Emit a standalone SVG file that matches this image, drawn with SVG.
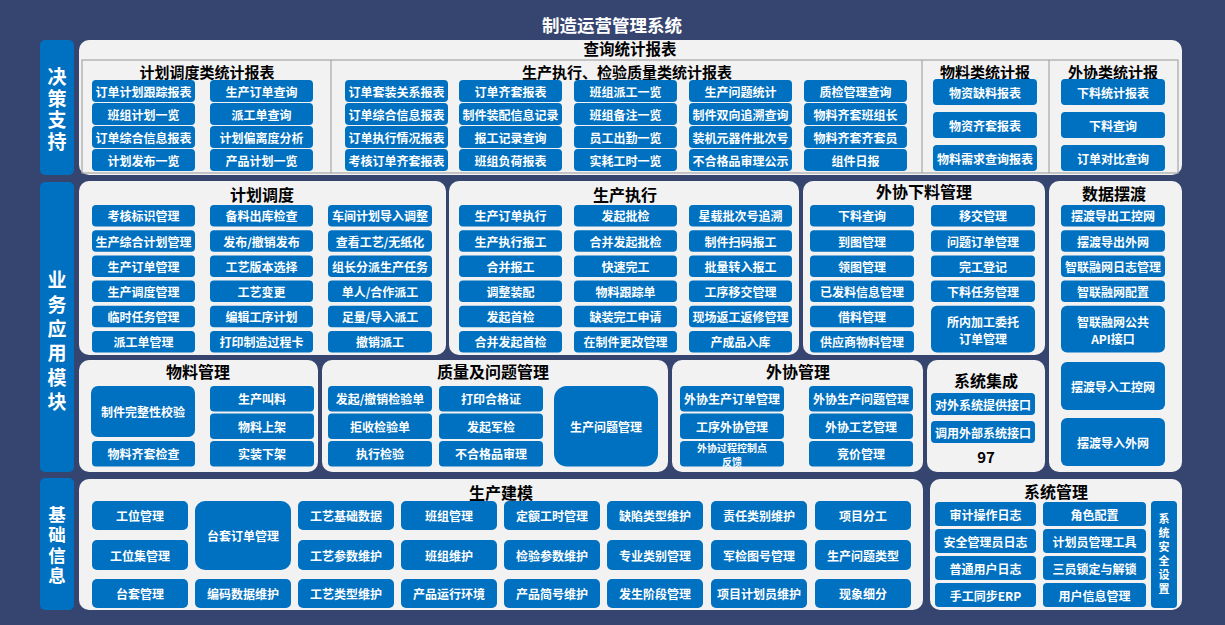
<svg xmlns="http://www.w3.org/2000/svg" width="1225" height="625" viewBox="0 0 1225 625">
<style>
text{font-family:"Noto Sans CJK SC","Noto Sans",sans-serif;font-weight:bold}
.bg{fill:#36456F}
.side{fill:#0070C0}
.vt{fill:#fff;writing-mode:vertical-rl;text-anchor:start}
.panel{fill:#F2F2F2}
.pt{fill:#000;font-size:16px;text-anchor:middle}
.sh{fill:#000;font-size:15px;text-anchor:middle}
.btn{fill:#0070C0}
.bt{fill:#fff;font-size:12px;text-anchor:middle;dominant-baseline:central}
.bs{fill:#fff;font-size:10px;text-anchor:middle;dominant-baseline:central}
.ln{stroke:#A6A6A6;stroke-width:1.2;fill:none}
</style>
<rect class="bg" x="0" y="0" width="1225" height="625"/>
<text x="612" y="32" fill="#fff" font-size="17.5" text-anchor="middle">制造运营管理系统</text>

<g id="side-decision"><rect class="side" x="40" y="40" width="34" height="135" rx="5"/>
<text class="vt" x="57" y="67.5" font-size="19" letter-spacing="2.5">决策支持</text></g>
<g id="side-business"><rect class="side" x="40" y="182" width="34" height="290" rx="5"/>
<text class="vt" x="57" y="270.5" font-size="19" letter-spacing="5.4">业务应用模块</text></g>
<g id="side-basic"><rect class="side" x="40" y="478" width="34" height="132" rx="5"/>
<text class="vt" x="57" y="505.2" font-size="17.5" letter-spacing="3">基础信息</text></g>

<g id="panel-query">
<rect class="panel" x="79" y="40" width="1103" height="135" rx="10"/>
<text x="630" y="55" fill="#000" font-size="15.5" text-anchor="middle">查询统计报表</text>
<rect class="ln" x="82" y="60" width="1096" height="113"/>
<line class="ln" x1="331" y1="60" x2="331" y2="173"/>
<line class="ln" x1="922" y1="60" x2="922" y2="173"/>
<line class="ln" x1="1049" y1="60" x2="1049" y2="173"/>
<text class="sh" x="207" y="77.5">计划调度类统计报表</text>
<text class="sh" x="627" y="77.5">生产执行、检验质量类统计报表</text>
<text class="sh" x="985" y="77.5">物料类统计报</text>
<text class="sh" x="1113" y="77.5">外协类统计报</text>
</g>

<g id="q-plan">
<g id="q1"><rect class="btn" x="92" y="80" width="103" height="22" rx="4"/><text class="bt" x="143.5" y="91">订单计划跟踪报表</text></g>
<g id="q2"><rect class="btn" x="92" y="103" width="103" height="22" rx="4"/><text class="bt" x="143.5" y="114">班组计划一览</text></g>
<g id="q3"><rect class="btn" x="92" y="126" width="103" height="22" rx="4"/><text class="bt" x="143.5" y="137">订单综合信息报表</text></g>
<g id="q4"><rect class="btn" x="92" y="149" width="103" height="22" rx="4"/><text class="bt" x="143.5" y="160">计划发布一览</text></g>
<g id="q5"><rect class="btn" x="210" y="80" width="103" height="22" rx="4"/><text class="bt" x="261.5" y="91">生产订单查询</text></g>
<g id="q6"><rect class="btn" x="210" y="103" width="103" height="22" rx="4"/><text class="bt" x="261.5" y="114">派工单查询</text></g>
<g id="q7"><rect class="btn" x="210" y="126" width="103" height="22" rx="4"/><text class="bt" x="261.5" y="137">计划偏离度分析</text></g>
<g id="q8"><rect class="btn" x="210" y="149" width="103" height="22" rx="4"/><text class="bt" x="261.5" y="160">产品计划一览</text></g>
</g>
<g id="q-exec">
<g id="q9"><rect class="btn" x="345" y="80" width="103" height="22" rx="4"/><text class="bt" x="396.5" y="91">订单套装关系报表</text></g>
<g id="q10"><rect class="btn" x="345" y="103" width="103" height="22" rx="4"/><text class="bt" x="396.5" y="114">订单综合信息报表</text></g>
<g id="q11"><rect class="btn" x="345" y="126" width="103" height="22" rx="4"/><text class="bt" x="396.5" y="137">订单执行情况报表</text></g>
<g id="q12"><rect class="btn" x="345" y="149" width="103" height="22" rx="4"/><text class="bt" x="396.5" y="160">考核订单齐套报表</text></g>
<g id="q13"><rect class="btn" x="459" y="80" width="103" height="22" rx="4"/><text class="bt" x="510.5" y="91">订单齐套报表</text></g>
<g id="q14"><rect class="btn" x="459" y="103" width="103" height="22" rx="4"/><text class="bt" x="510.5" y="114">制件装配信息记录</text></g>
<g id="q15"><rect class="btn" x="459" y="126" width="103" height="22" rx="4"/><text class="bt" x="510.5" y="137">报工记录查询</text></g>
<g id="q16"><rect class="btn" x="459" y="149" width="103" height="22" rx="4"/><text class="bt" x="510.5" y="160">班组负荷报表</text></g>
<g id="q17"><rect class="btn" x="574" y="80" width="103" height="22" rx="4"/><text class="bt" x="625.5" y="91">班组派工一览</text></g>
<g id="q18"><rect class="btn" x="574" y="103" width="103" height="22" rx="4"/><text class="bt" x="625.5" y="114">班组备注一览</text></g>
<g id="q19"><rect class="btn" x="574" y="126" width="103" height="22" rx="4"/><text class="bt" x="625.5" y="137">员工出勤一览</text></g>
<g id="q20"><rect class="btn" x="574" y="149" width="103" height="22" rx="4"/><text class="bt" x="625.5" y="160">实耗工时一览</text></g>
<g id="q21"><rect class="btn" x="689" y="80" width="103" height="22" rx="4"/><text class="bt" x="740.5" y="91">生产问题统计</text></g>
<g id="q22"><rect class="btn" x="689" y="103" width="103" height="22" rx="4"/><text class="bt" x="740.5" y="114">制件双向追溯查询</text></g>
<g id="q23"><rect class="btn" x="689" y="126" width="103" height="22" rx="4"/><text class="bt" x="740.5" y="137">装机元器件批次号</text></g>
<g id="q24"><rect class="btn" x="689" y="149" width="103" height="22" rx="4"/><text class="bt" x="740.5" y="160">不合格品审理公示</text></g>
<g id="q25"><rect class="btn" x="804" y="80" width="103" height="22" rx="4"/><text class="bt" x="855.5" y="91">质检管理查询</text></g>
<g id="q26"><rect class="btn" x="804" y="103" width="103" height="22" rx="4"/><text class="bt" x="855.5" y="114">物料齐套班组长</text></g>
<g id="q27"><rect class="btn" x="804" y="126" width="103" height="22" rx="4"/><text class="bt" x="855.5" y="137">物料齐套齐套员</text></g>
<g id="q28"><rect class="btn" x="804" y="149" width="103" height="22" rx="4"/><text class="bt" x="855.5" y="160">组件日报</text></g>
</g>
<g id="q-mat">
<g id="q29"><rect class="btn" x="933" y="79" width="104" height="26" rx="4"/><text class="bt" x="985" y="92">物资缺料报表</text></g>
<g id="q30"><rect class="btn" x="933" y="112" width="104" height="26" rx="4"/><text class="bt" x="985" y="125">物资齐套报表</text></g>
<g id="q31"><rect class="btn" x="933" y="145" width="104" height="26" rx="4"/><text class="bt" x="985" y="158">物料需求查询报表</text></g>
<g id="q32"><rect class="btn" x="1061" y="79" width="104" height="26" rx="4"/><text class="bt" x="1113" y="92">下料统计报表</text></g>
<g id="q33"><rect class="btn" x="1061" y="112" width="104" height="26" rx="4"/><text class="bt" x="1113" y="125">下料查询</text></g>
<g id="q34"><rect class="btn" x="1061" y="145" width="104" height="26" rx="4"/><text class="bt" x="1113" y="158">订单对比查询</text></g>
</g>

<g id="panel-plan">
<rect class="panel" x="79" y="181" width="367" height="174" rx="10"/>
<text class="pt" x="262" y="201">计划调度</text>
<g id="p1"><rect class="btn" x="92" y="205" width="103" height="21.5" rx="4"/><text class="bt" x="143.5" y="215.8">考核标识管理</text></g>
<g id="p2"><rect class="btn" x="92" y="230.2" width="103" height="21.5" rx="4"/><text class="bt" x="143.5" y="241">生产综合计划管理</text></g>
<g id="p3"><rect class="btn" x="92" y="255.4" width="103" height="21.5" rx="4"/><text class="bt" x="143.5" y="266.2">生产订单管理</text></g>
<g id="p4"><rect class="btn" x="92" y="280.6" width="103" height="21.5" rx="4"/><text class="bt" x="143.5" y="291.4">生产调度管理</text></g>
<g id="p5"><rect class="btn" x="92" y="305.8" width="103" height="21.5" rx="4"/><text class="bt" x="143.5" y="316.6">临时任务管理</text></g>
<g id="p6"><rect class="btn" x="92" y="331" width="103" height="21.5" rx="4"/><text class="bt" x="143.5" y="341.8">派工单管理</text></g>
<g id="p7"><rect class="btn" x="210" y="205" width="103" height="21.5" rx="4"/><text class="bt" x="261.5" y="215.8">备料出库检查</text></g>
<g id="p8"><rect class="btn" x="210" y="230.2" width="103" height="21.5" rx="4"/><text class="bt" x="261.5" y="241">发布/撤销发布</text></g>
<g id="p9"><rect class="btn" x="210" y="255.4" width="103" height="21.5" rx="4"/><text class="bt" x="261.5" y="266.2">工艺版本选择</text></g>
<g id="p10"><rect class="btn" x="210" y="280.6" width="103" height="21.5" rx="4"/><text class="bt" x="261.5" y="291.4">工艺变更</text></g>
<g id="p11"><rect class="btn" x="210" y="305.8" width="103" height="21.5" rx="4"/><text class="bt" x="261.5" y="316.6">编辑工序计划</text></g>
<g id="p12"><rect class="btn" x="210" y="331" width="103" height="21.5" rx="4"/><text class="bt" x="261.5" y="341.8">打印制造过程卡</text></g>
<g id="p13"><rect class="btn" x="328" y="205" width="104" height="21.5" rx="4"/><text class="bt" x="380" y="215.8">车间计划导入调整</text></g>
<g id="p14"><rect class="btn" x="328" y="230.2" width="104" height="21.5" rx="4"/><text class="bt" x="380" y="241">查看工艺/无纸化</text></g>
<g id="p15"><rect class="btn" x="328" y="255.4" width="104" height="21.5" rx="4"/><text class="bt" x="380" y="266.2">组长分派生产任务</text></g>
<g id="p16"><rect class="btn" x="328" y="280.6" width="104" height="21.5" rx="4"/><text class="bt" x="380" y="291.4">单人/合作派工</text></g>
<g id="p17"><rect class="btn" x="328" y="305.8" width="104" height="21.5" rx="4"/><text class="bt" x="380" y="316.6">足量/导入派工</text></g>
<g id="p18"><rect class="btn" x="328" y="331" width="104" height="21.5" rx="4"/><text class="bt" x="380" y="341.8">撤销派工</text></g>
</g>

<g id="panel-exec">
<rect class="panel" x="449" y="181" width="350" height="174" rx="10"/>
<text class="pt" x="625" y="201">生产执行</text>
<g id="e1"><rect class="btn" x="459" y="205" width="103" height="21.5" rx="4"/><text class="bt" x="510.5" y="215.8">生产订单执行</text></g>
<g id="e2"><rect class="btn" x="459" y="230.2" width="103" height="21.5" rx="4"/><text class="bt" x="510.5" y="241">生产执行报工</text></g>
<g id="e3"><rect class="btn" x="459" y="255.4" width="103" height="21.5" rx="4"/><text class="bt" x="510.5" y="266.2">合并报工</text></g>
<g id="e4"><rect class="btn" x="459" y="280.6" width="103" height="21.5" rx="4"/><text class="bt" x="510.5" y="291.4">调整装配</text></g>
<g id="e5"><rect class="btn" x="459" y="305.8" width="103" height="21.5" rx="4"/><text class="bt" x="510.5" y="316.6">发起首检</text></g>
<g id="e6"><rect class="btn" x="459" y="331" width="103" height="21.5" rx="4"/><text class="bt" x="510.5" y="341.8">合并发起首检</text></g>
<g id="e7"><rect class="btn" x="574" y="205" width="103" height="21.5" rx="4"/><text class="bt" x="625.5" y="215.8">发起批检</text></g>
<g id="e8"><rect class="btn" x="574" y="230.2" width="103" height="21.5" rx="4"/><text class="bt" x="625.5" y="241">合并发起批检</text></g>
<g id="e9"><rect class="btn" x="574" y="255.4" width="103" height="21.5" rx="4"/><text class="bt" x="625.5" y="266.2">快速完工</text></g>
<g id="e10"><rect class="btn" x="574" y="280.6" width="103" height="21.5" rx="4"/><text class="bt" x="625.5" y="291.4">物料跟踪单</text></g>
<g id="e11"><rect class="btn" x="574" y="305.8" width="103" height="21.5" rx="4"/><text class="bt" x="625.5" y="316.6">缺装完工申请</text></g>
<g id="e12"><rect class="btn" x="574" y="331" width="103" height="21.5" rx="4"/><text class="bt" x="625.5" y="341.8">在制件更改管理</text></g>
<g id="e13"><rect class="btn" x="689" y="205" width="103" height="21.5" rx="4"/><text class="bt" x="740.5" y="215.8">星载批次号追溯</text></g>
<g id="e14"><rect class="btn" x="689" y="230.2" width="103" height="21.5" rx="4"/><text class="bt" x="740.5" y="241">制件扫码报工</text></g>
<g id="e15"><rect class="btn" x="689" y="255.4" width="103" height="21.5" rx="4"/><text class="bt" x="740.5" y="266.2">批量转入报工</text></g>
<g id="e16"><rect class="btn" x="689" y="280.6" width="103" height="21.5" rx="4"/><text class="bt" x="740.5" y="291.4">工序移交管理</text></g>
<g id="e17"><rect class="btn" x="689" y="305.8" width="103" height="21.5" rx="4"/><text class="bt" x="740.5" y="316.6">现场返工返修管理</text></g>
<g id="e18"><rect class="btn" x="689" y="331" width="103" height="21.5" rx="4"/><text class="bt" x="740.5" y="341.8">产成品入库</text></g>
</g>

<g id="panel-cutting">
<rect class="panel" x="803" y="181" width="242" height="174" rx="10"/>
<text class="pt" x="924" y="198">外协下料管理</text>
<g id="c1"><rect class="btn" x="810" y="205" width="104" height="21.5" rx="4"/><text class="bt" x="862" y="215.8">下料查询</text></g>
<g id="c2"><rect class="btn" x="810" y="230.2" width="104" height="21.5" rx="4"/><text class="bt" x="862" y="241">到图管理</text></g>
<g id="c3"><rect class="btn" x="810" y="255.4" width="104" height="21.5" rx="4"/><text class="bt" x="862" y="266.2">领图管理</text></g>
<g id="c4"><rect class="btn" x="810" y="280.6" width="104" height="21.5" rx="4"/><text class="bt" x="862" y="291.4">已发料信息管理</text></g>
<g id="c5"><rect class="btn" x="810" y="305.8" width="104" height="21.5" rx="4"/><text class="bt" x="862" y="316.6">借料管理</text></g>
<g id="c6"><rect class="btn" x="810" y="331" width="104" height="21.5" rx="4"/><text class="bt" x="862" y="341.8">供应商物料管理</text></g>
<g id="c7"><rect class="btn" x="931" y="205" width="104" height="21.5" rx="4"/><text class="bt" x="983" y="215.8">移交管理</text></g>
<g id="c8"><rect class="btn" x="931" y="230.2" width="104" height="21.5" rx="4"/><text class="bt" x="983" y="241">问题订单管理</text></g>
<g id="c9"><rect class="btn" x="931" y="255.4" width="104" height="21.5" rx="4"/><text class="bt" x="983" y="266.2">完工登记</text></g>
<g id="c10"><rect class="btn" x="931" y="280.6" width="104" height="21.5" rx="4"/><text class="bt" x="983" y="291.4">下料任务管理</text></g>
<g id="c11"><rect class="btn" x="931" y="305.8" width="104" height="46.7" rx="6"/><text class="bt"><tspan x="983" y="321">所内加工委托</tspan><tspan x="983" y="338">订单管理</tspan></text></g>
</g>

<g id="panel-ferry">
<rect class="panel" x="1049" y="181" width="133" height="291" rx="10"/>
<text class="pt" x="1114" y="200">数据摆渡</text>
<g id="f1"><rect class="btn" x="1061" y="205" width="104" height="21.5" rx="4"/><text class="bt" x="1113" y="215.8">摆渡导出工控网</text></g>
<g id="f2"><rect class="btn" x="1061" y="230.2" width="104" height="21.5" rx="4"/><text class="bt" x="1113" y="241">摆渡导出外网</text></g>
<g id="f3"><rect class="btn" x="1061" y="255.4" width="104" height="21.5" rx="4"/><text class="bt" x="1113" y="266.2">智联融网日志管理</text></g>
<g id="f4"><rect class="btn" x="1061" y="280.6" width="104" height="21.5" rx="4"/><text class="bt" x="1113" y="291.4">智联融网配置</text></g>
<g id="f5"><rect class="btn" x="1061" y="305.8" width="104" height="46.7" rx="6"/><text class="bt"><tspan x="1113" y="321">智联融网公共</tspan><tspan x="1113" y="338">API接口</tspan></text></g>
<g id="f6"><rect class="btn" x="1061" y="362" width="104" height="48" rx="6"/><text class="bt" x="1113" y="386">摆渡导入工控网</text></g>
<g id="f7"><rect class="btn" x="1061" y="418" width="104" height="48" rx="6"/><text class="bt" x="1113" y="442">摆渡导入外网</text></g>
</g>

<g id="panel-material">
<rect class="panel" x="79" y="360" width="239" height="112" rx="10"/>
<text class="pt" x="198" y="378">物料管理</text>
<g id="m1"><rect class="btn" x="91" y="386" width="104" height="51" rx="7"/><text class="bt" x="143" y="411.5">制件完整性校验</text></g>
<g id="m2"><rect class="btn" x="92" y="441" width="103" height="25.5" rx="4"/><text class="bt" x="143.5" y="453.8">物料齐套检查</text></g>
<g id="m3"><rect class="btn" x="210" y="386" width="104" height="25.5" rx="4"/><text class="bt" x="262" y="398.8">生产叫料</text></g>
<g id="m4"><rect class="btn" x="210" y="413.5" width="104" height="25.5" rx="4"/><text class="bt" x="262" y="426.3">物料上架</text></g>
<g id="m5"><rect class="btn" x="210" y="441" width="104" height="25.5" rx="4"/><text class="bt" x="262" y="453.8">实装下架</text></g>
</g>

<g id="panel-quality">
<rect class="panel" x="322" y="360" width="346" height="112" rx="10"/>
<text class="pt" x="493" y="378">质量及问题管理</text>
<g id="k1"><rect class="btn" x="328" y="386" width="104" height="25.5" rx="4"/><text class="bt" x="380" y="398.8">发起/撤销检验单</text></g>
<g id="k2"><rect class="btn" x="328" y="413.5" width="104" height="25.5" rx="4"/><text class="bt" x="380" y="426.3">拒收检验单</text></g>
<g id="k3"><rect class="btn" x="328" y="441" width="104" height="25.5" rx="4"/><text class="bt" x="380" y="453.8">执行检验</text></g>
<g id="k4"><rect class="btn" x="439" y="386" width="104" height="25.5" rx="4"/><text class="bt" x="491" y="398.8">打印合格证</text></g>
<g id="k5"><rect class="btn" x="439" y="413.5" width="104" height="25.5" rx="4"/><text class="bt" x="491" y="426.3">发起军检</text></g>
<g id="k6"><rect class="btn" x="439" y="441" width="104" height="25.5" rx="4"/><text class="bt" x="491" y="453.8">不合格品审理</text></g>
<g id="k7"><rect class="btn" x="554" y="386" width="104" height="80.5" rx="13"/><text class="bt" x="606" y="426.3">生产问题管理</text></g>
</g>

<g id="panel-outsource">
<rect class="panel" x="672" y="360" width="251" height="112" rx="10"/>
<text class="pt" x="798" y="378">外协管理</text>
<g id="o1"><rect class="btn" x="680" y="386" width="104" height="25.5" rx="4"/><text class="bt" x="732" y="398.8">外协生产订单管理</text></g>
<g id="o2"><rect class="btn" x="680" y="413.5" width="104" height="25.5" rx="4"/><text class="bt" x="732" y="426.3">工序外协管理</text></g>
<g id="o3"><rect class="btn" x="680" y="441" width="104" height="25.5" rx="4"/><text class="bs"><tspan x="732" y="446.5">外协过程控制点</tspan><tspan x="732" y="461">反馈</tspan></text></g>
<g id="o4"><rect class="btn" x="809" y="386" width="104" height="25.5" rx="4"/><text class="bt" x="861" y="398.8">外协生产问题管理</text></g>
<g id="o5"><rect class="btn" x="809" y="413.5" width="104" height="25.5" rx="4"/><text class="bt" x="861" y="426.3">外协工艺管理</text></g>
<g id="o6"><rect class="btn" x="809" y="441" width="104" height="25.5" rx="4"/><text class="bt" x="861" y="453.8">竞价管理</text></g>
</g>

<g id="panel-integration">
<rect class="panel" x="927" y="360" width="118" height="112" rx="10"/>
<text class="pt" x="986" y="387">系统集成</text>
<g id="i1"><rect class="btn" x="931" y="393" width="104" height="22" rx="4"/><text class="bt" x="983" y="404">对外系统提供接口</text></g>
<g id="i2"><rect class="btn" x="931" y="421" width="104" height="22" rx="4"/><text class="bt" x="983" y="432">调用外部系统接口</text></g>
<text x="986" y="463" fill="#000" font-size="15" text-anchor="middle">97</text>
</g>

<g id="panel-modeling">
<rect class="panel" x="79" y="479" width="844" height="131" rx="10"/>
<text class="pt" x="501" y="499">生产建模</text>
<g id="b1"><rect class="btn" x="92" y="501" width="96" height="29" rx="5"/><text class="bt" x="140" y="515.5">工位管理</text></g>
<g id="b2"><rect class="btn" x="92" y="540" width="96" height="30" rx="5"/><text class="bt" x="140" y="555">工位集管理</text></g>
<g id="b3"><rect class="btn" x="92" y="579" width="96" height="29" rx="5"/><text class="bt" x="140" y="593.5">台套管理</text></g>
<g id="b4"><rect class="btn" x="195" y="501" width="96" height="69" rx="10"/><text class="bt" x="243" y="535.5">台套订单管理</text></g>
<g id="b5"><rect class="btn" x="195" y="579" width="96" height="29" rx="5"/><text class="bt" x="243" y="593.5">编码数据维护</text></g>
<g id="b6"><rect class="btn" x="298" y="501" width="96" height="29" rx="5"/><text class="bt" x="346" y="515.5">工艺基础数据</text></g>
<g id="b7"><rect class="btn" x="298" y="540" width="96" height="30" rx="5"/><text class="bt" x="346" y="555">工艺参数维护</text></g>
<g id="b8"><rect class="btn" x="298" y="579" width="96" height="29" rx="5"/><text class="bt" x="346" y="593.5">工艺类型维护</text></g>
<g id="b9"><rect class="btn" x="401" y="501" width="96" height="29" rx="5"/><text class="bt" x="449" y="515.5">班组管理</text></g>
<g id="b10"><rect class="btn" x="401" y="540" width="96" height="30" rx="5"/><text class="bt" x="449" y="555">班组维护</text></g>
<g id="b11"><rect class="btn" x="401" y="579" width="96" height="29" rx="5"/><text class="bt" x="449" y="593.5">产品运行环境</text></g>
<g id="b12"><rect class="btn" x="504" y="501" width="96" height="29" rx="5"/><text class="bt" x="552" y="515.5">定额工时管理</text></g>
<g id="b13"><rect class="btn" x="504" y="540" width="96" height="30" rx="5"/><text class="bt" x="552" y="555">检验参数维护</text></g>
<g id="b14"><rect class="btn" x="504" y="579" width="96" height="29" rx="5"/><text class="bt" x="552" y="593.5">产品简号维护</text></g>
<g id="b15"><rect class="btn" x="607" y="501" width="96" height="29" rx="5"/><text class="bt" x="655" y="515.5">缺陷类型维护</text></g>
<g id="b16"><rect class="btn" x="607" y="540" width="96" height="30" rx="5"/><text class="bt" x="655" y="555">专业类别管理</text></g>
<g id="b17"><rect class="btn" x="607" y="579" width="96" height="29" rx="5"/><text class="bt" x="655" y="593.5">发生阶段管理</text></g>
<g id="b18"><rect class="btn" x="711" y="501" width="96" height="29" rx="5"/><text class="bt" x="759" y="515.5">责任类别维护</text></g>
<g id="b19"><rect class="btn" x="711" y="540" width="96" height="30" rx="5"/><text class="bt" x="759" y="555">军检图号管理</text></g>
<g id="b20"><rect class="btn" x="711" y="579" width="96" height="29" rx="5"/><text class="bt" x="759" y="593.5">项目计划员维护</text></g>
<g id="b21"><rect class="btn" x="815" y="501" width="96" height="29" rx="5"/><text class="bt" x="863" y="515.5">项目分工</text></g>
<g id="b22"><rect class="btn" x="815" y="540" width="96" height="30" rx="5"/><text class="bt" x="863" y="555">生产问题类型</text></g>
<g id="b23"><rect class="btn" x="815" y="579" width="96" height="29" rx="5"/><text class="bt" x="863" y="593.5">现象细分</text></g>
</g>

<g id="panel-sysmgmt">
<rect class="panel" x="930" y="479" width="252" height="131" rx="10"/>
<text class="pt" x="1056" y="498">系统管理</text>
<g id="s1"><rect class="btn" x="935" y="502" width="101" height="24" rx="4"/><text class="bt" x="985.5" y="514">审计操作日志</text></g>
<g id="s2"><rect class="btn" x="935" y="529" width="101" height="24" rx="4"/><text class="bt" x="985.5" y="541">安全管理员日志</text></g>
<g id="s3"><rect class="btn" x="935" y="556" width="101" height="24" rx="4"/><text class="bt" x="985.5" y="568">普通用户日志</text></g>
<g id="s4"><rect class="btn" x="935" y="583" width="101" height="24" rx="4"/><text class="bt" x="985.5" y="595">手工同步ERP</text></g>
<g id="s5"><rect class="btn" x="1043" y="502" width="103" height="24" rx="4"/><text class="bt" x="1094.5" y="514">角色配置</text></g>
<g id="s6"><rect class="btn" x="1043" y="529" width="103" height="24" rx="4"/><text class="bt" x="1094.5" y="541">计划员管理工具</text></g>
<g id="s7"><rect class="btn" x="1043" y="556" width="103" height="24" rx="4"/><text class="bt" x="1094.5" y="568">三员锁定与解锁</text></g>
<g id="s8"><rect class="btn" x="1043" y="583" width="103" height="24" rx="4"/><text class="bt" x="1094.5" y="595">用户信息管理</text></g>
<g id="s9"><rect class="btn" x="1151" y="501" width="26" height="107" rx="4"/>
<text class="vt" x="1164" y="513.5" font-size="11" letter-spacing="3">系统安全设置</text></g>
</g>
<g id="connectors"/>
</svg>
